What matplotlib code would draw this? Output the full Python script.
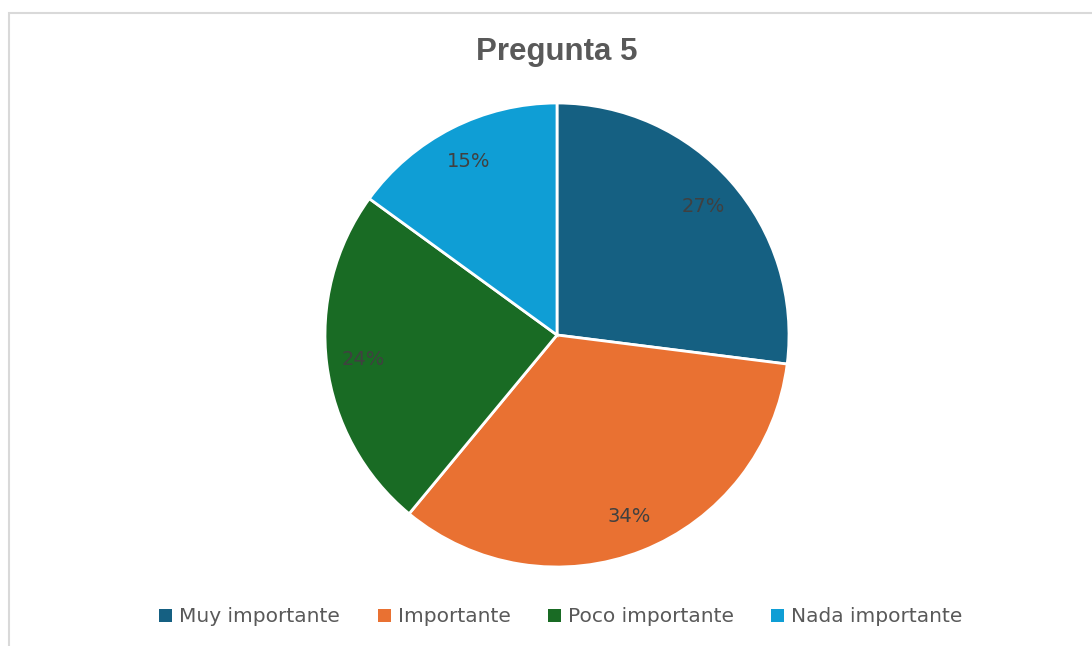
import matplotlib
matplotlib.use("Agg")
import matplotlib.pyplot as plt
from matplotlib.patches import Rectangle, Patch

TITLE = "Pregunta 5"
CATEGORIES = ["Muy importante", "Importante", "Poco importante", "Nada importante"]
VALUES = [27, 34, 24, 15]
COLORS = ["#156082", "#e97132", "#196b24", "#0f9ed5"]

W, H = 1092, 646
fig = plt.figure(figsize=(W / 100, H / 100), dpi=100)

# light gray chart border (clipped at right/bottom like the reference)
fig.patches.append(Rectangle((9 / W, -0.05), 1.05, 1 - 13 / H + 0.05,
                             transform=fig.transFigure, fill=False,
                             edgecolor="#d9d9d9", linewidth=1.5))

cx, cy, r = 557, H - 335, 232
ax = fig.add_axes([(cx - r) / W, (cy - r) / H, 2 * r / W, 2 * r / H])
wedges, texts, autotexts = ax.pie(
    VALUES, colors=COLORS, startangle=90, counterclock=False,
    autopct="%1.0f%%", pctdistance=0.84,
    wedgeprops=dict(edgecolor="white", linewidth=2),
    textprops=dict(color="#404040", fontsize=14, family="DejaVu Sans"))
ax.set_xlim(-1, 1)
ax.set_ylim(-1, 1)
ax.set_aspect("equal")
ax.axis("off")

fig.text(557 / W, 1 - 52 / H, TITLE, ha="center", va="center",
         fontsize=22.5, fontweight="bold", color="#595959", family="Liberation Sans")

handles = [Patch(facecolor=c, edgecolor="none") for c in COLORS]
fig.legend(handles, CATEGORIES, loc="center", bbox_to_anchor=(561 / W, 29 / H),
           ncol=4, frameon=False, fontsize=14.5, labelcolor="#595959",
           handlelength=0.65, handleheight=0.65, handletextpad=0.35,
           columnspacing=1.85)

fig.savefig("out.png", dpi=100, facecolor="white")
